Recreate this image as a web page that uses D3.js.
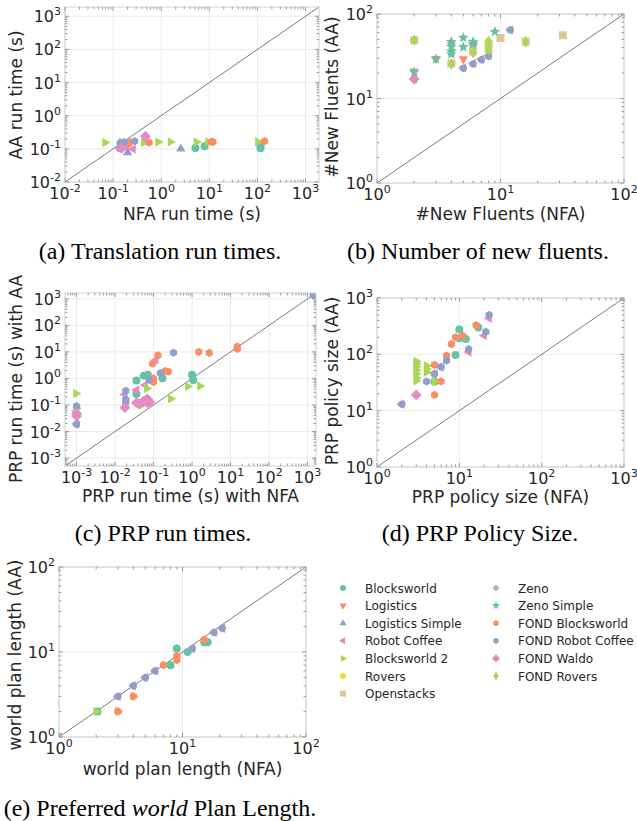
<!DOCTYPE html>
<html><head><meta charset="utf-8">
<script src="https://cdn.jsdelivr.net/npm/d3@7"></script>
<style>
body{margin:0;background:#fff;}
svg{display:block;}
svg text{font-family:'DejaVu Sans',sans-serif;}
svg text.cap{font-family:'Liberation Serif','Times New Roman',serif;}
</style></head>
<body>
<svg id="chart" width="637" height="821"></svg>
<script>
// ---------------- data ----------------
const seriesNames = ["Blocksworld","Logistics","Logistics Simple","Robot Coffee","Blocksworld 2","Rovers","Openstacks",
  "Zeno","Zeno Simple","FOND Blocksworld","FOND Robot Coffee","FOND Waldo","FOND Rovers"];
const seriesColors = ["#66c2a5","#fc8d62","#8da0cb","#e78ac3","#a6d854","#ffd92f","#e5c494",
  "#b3b3b3","#66c2a5","#fc8d62","#8da0cb","#e78ac3","#a6d854"];
const seriesShapes = ["circle","triDown","triUp","triLeft","triRight","octagon","square",
  "pentagon","star","hexagon","hexagon","diamond","thinDiamond"];

// (a) translation run times: [series, NFA, AA]
const translationTimes = [
  ["Blocksworld",5.15,0.107],["Blocksworld",8.0,0.12],["Blocksworld",116,0.104],["Blocksworld",116,0.123],["Blocksworld",0.14,0.105],
  ["Logistics",0.2,0.125],
  ["Logistics Simple",2.55,0.1],["Logistics Simple",0.2,0.078],
  ["Robot Coffee",0.14,0.1],["Robot Coffee",0.26,0.098],
  ["Blocksworld 2",0.068,0.155],["Blocksworld 2",0.15,0.16],["Blocksworld 2",0.435,0.155],["Blocksworld 2",0.86,0.16],
  ["Blocksworld 2",1.56,0.162],["Blocksworld 2",5.4,0.162],["Blocksworld 2",9.4,0.162],["Blocksworld 2",102,0.165],
  ["FOND Blocksworld",0.21,0.14],["FOND Blocksworld",0.22,0.16],["FOND Blocksworld",0.56,0.155],["FOND Blocksworld",11.1,0.162],
  ["FOND Blocksworld",11.9,0.162],["FOND Blocksworld",141,0.17],
  ["FOND Robot Coffee",0.14,0.15],["FOND Robot Coffee",0.17,0.16],["FOND Robot Coffee",0.28,0.17],
  ["FOND Waldo",0.15,0.105],["FOND Waldo",0.47,0.24]
];

// (b) number of new fluents: [series, NFA, AA]
const newFluents = [
  ["Logistics",2,21],["Logistics",3,29.5],["Logistics",4,43],["Logistics",5,29.3],["Logistics",6,41],
  ["Robot Coffee",2,17],["Robot Coffee",5,23],["Robot Coffee",6,26],["Robot Coffee",7,29],["Robot Coffee",8,32],["Robot Coffee",12,65],
  ["Rovers",4,26],["Rovers",6,36],["Rovers",8,42],["Rovers",8,47],
  ["Openstacks",2,49],["Openstacks",4,26],["Openstacks",6,36],["Openstacks",8,38],["Openstacks",8,44],
  ["Openstacks",10,52],["Openstacks",16,47],["Openstacks",32,56],
  ["Zeno Simple",2,20.4],["Zeno Simple",3,29.3],["Zeno Simple",4,47],["Zeno Simple",4,41],["Zeno Simple",4,36],["Zeno Simple",4,33.4],
  ["Zeno Simple",5,52.4],["Zeno Simple",5,40.6],["Zeno Simple",6,47],["Zeno Simple",6,44],["Zeno Simple",9,61.8],
  ["FOND Robot Coffee",5,22.8],["FOND Robot Coffee",6,25.6],["FOND Robot Coffee",7,28.8],["FOND Robot Coffee",8,31.6],["FOND Robot Coffee",12,64.7],
  ["FOND Waldo",2,17],
  ["FOND Rovers",2,49],["FOND Rovers",4,25.6],["FOND Rovers",6,35],["FOND Rovers",8,47],["FOND Rovers",8,38],["FOND Rovers",16,47]
];

// (c) PRP run times: [series, NFA, AA]
const prpTimes = [
  ["Blocksworld",0.036,0.83],["Blocksworld",0.036,0.26],["Blocksworld",0.056,1.25],["Blocksworld",0.071,1.37],["Blocksworld",0.17,1.01],
  ["Blocksworld",1.0,1.37],["Blocksworld",1.07,0.88],
  ["Robot Coffee",0.001,0.019],["Robot Coffee",0.001,0.06],["Robot Coffee",0.018,0.25],["Robot Coffee",0.036,0.37],["Robot Coffee",0.06,0.56],["Robot Coffee",0.114,5.0],
  ["Blocksworld 2",0.00097,0.27],["Blocksworld 2",0.001,0.075],["Blocksworld 2",0.05,0.1],["Blocksworld 2",0.067,0.42],["Blocksworld 2",0.28,0.17],
  ["Blocksworld 2",0.78,0.5],["Blocksworld 2",1.6,0.52],
  ["FOND Blocksworld",0.094,3.6],["FOND Blocksworld",0.13,7.4],["FOND Blocksworld",0.1,1.0],["FOND Blocksworld",0.1,0.73],
  ["FOND Blocksworld",0.2,1.9],["FOND Blocksworld",0.24,1.8],["FOND Blocksworld",1.5,10],["FOND Blocksworld",2.8,9.2],
  ["FOND Blocksworld",15,13],["FOND Blocksworld",15,16],
  ["FOND Robot Coffee",0.001,0.09],["FOND Robot Coffee",0.001,0.019],["FOND Robot Coffee",0.019,0.34],["FOND Robot Coffee",0.019,0.16],
  ["FOND Robot Coffee",0.019,0.12],["FOND Robot Coffee",0.077,0.88],["FOND Robot Coffee",0.15,1.58],["FOND Robot Coffee",0.33,9.3],
  ["FOND Robot Coffee",1400,1400],
  ["FOND Waldo",0.001,0.048],["FOND Waldo",0.001,0.038],["FOND Waldo",0.018,0.079],["FOND Waldo",0.036,0.12],["FOND Waldo",0.042,0.11],
  ["FOND Waldo",0.054,0.14],["FOND Waldo",0.069,0.17],["FOND Waldo",0.07,0.12],["FOND Waldo",0.08,0.13]
];

// (d) PRP policy size: [series, NFA, AA]
const policySize = [
  ["Blocksworld",5,33],["Blocksworld",9,97],["Blocksworld",10,277],["Blocksworld",10,192],["Blocksworld",12,188],["Blocksworld",17,300],
  ["Robot Coffee",2,13],["Robot Coffee",5,46],["Robot Coffee",6,59],["Robot Coffee",13,110],["Robot Coffee",20,215],["Robot Coffee",23,435],
  ["Blocksworld 2",3,75],["Blocksworld 2",3,68],["Blocksworld 2",3,60],["Blocksworld 2",3,52],["Blocksworld 2",3,45],["Blocksworld 2",3,38],
  ["Blocksworld 2",3,34],["Blocksworld 2",4,63],["Blocksworld 2",4,55],["Blocksworld 2",4,48],["Blocksworld 2",5,33],
  ["FOND Blocksworld",5,65],["FOND Blocksworld",5,19],["FOND Blocksworld",6,33],["FOND Blocksworld",7,95],["FOND Blocksworld",8,152],
  ["FOND Blocksworld",9,200],["FOND Blocksworld",11,214],["FOND Blocksworld",16,330],
  ["FOND Robot Coffee",2,13],["FOND Robot Coffee",4,33],["FOND Robot Coffee",5,45],["FOND Robot Coffee",6,60],["FOND Robot Coffee",7,77],
  ["FOND Robot Coffee",13,124],["FOND Robot Coffee",21,250],["FOND Robot Coffee",23,500],
  ["FOND Waldo",3,19]
];

// (e) preferred world plan length: [series, NFA, AA]
const planLength = [
  ["Blocksworld",2.05,2],["Blocksworld",8,7],["Blocksworld",9,11],["Blocksworld",11,10],["Blocksworld",15,13],["Blocksworld",16,13],
  ["Robot Coffee",1,1],["Robot Coffee",3,3],["Robot Coffee",4,4],["Robot Coffee",5,5],["Robot Coffee",6,6],["Robot Coffee",12,11],
  ["Robot Coffee",18,17],["Robot Coffee",21,19],
  ["Blocksworld 2",2,2],["Blocksworld 2",3,2],["Blocksworld 2",4,3],
  ["FOND Blocksworld",3,2],["FOND Blocksworld",4,3],["FOND Blocksworld",7,7],["FOND Blocksworld",9,8],["FOND Blocksworld",9,9],["FOND Blocksworld",15,14],
  ["FOND Robot Coffee",3,3],["FOND Robot Coffee",4,4],["FOND Robot Coffee",5,5],["FOND Robot Coffee",6,6],["FOND Robot Coffee",12,11],
  ["FOND Robot Coffee",18,17],["FOND Robot Coffee",21,19]
];

const ticksA = [-2,-1,0,1,2,3];
const ticksB = [0,1,2];
const ticksC = [-3,-2,-1,0,1,2,3];
const ticksD = [0,1,2,3];
const ticksE = [0,1,2];

// ---------------- drawing ----------------
const svg = d3.select("#chart");

function poly(n, r, rot){
  const pts=[];
  for(let i=0;i<n;i++){const a=rot+i*2*Math.PI/n; pts.push([r*Math.cos(a), r*Math.sin(a)]);}
  return "M"+pts.map(p=>p[0].toFixed(2)+","+p[1].toFixed(2)).join("L")+"Z";
}
function shapePath(shape, k){
  k = (k||1)*1.08;
  switch(shape){
    case "circle": return d3.symbol(d3.symbolCircle, Math.PI*Math.pow(3.7*k,2))();
    case "triUp": return poly(3,5*k,-Math.PI/2);
    case "triDown": return poly(3,5*k,Math.PI/2);
    case "triLeft": return poly(3,5*k,Math.PI);
    case "triRight": return poly(3,5*k,0);
    case "square": return poly(4,5.2*k,Math.PI/4);
    case "diamond": return poly(4,5*k,0);
    case "thinDiamond": { const h=5.5*k,w=3.2*k; return `M0,${-h}L${w},0L0,${h}L${-w},0Z`; }
    case "pentagon": return poly(5,4*k,-Math.PI/2);
    case "hexagon": return poly(6,3.8*k,Math.PI/2);
    case "octagon": return poly(8,3.9*k,Math.PI/8);
    case "star": {
      const pts=[]; for(let i=0;i<10;i++){const a=-Math.PI/2+i*Math.PI/5; const r=(i%2?2.3:5.3)*k; pts.push([r*Math.cos(a),r*Math.sin(a)]);}
      return "M"+pts.map(p=>p[0].toFixed(2)+","+p[1].toFixed(2)).join("L")+"Z";
    }
  }
}

function expText(sel, e){
  sel.append("tspan").text("10");
  sel.append("tspan").attr("dy",-7).attr("font-size",11).text(e<0?"-"+(-e):String(e));
}

let clipId=0;
function panel(cfg){
  const {x0,x1,y0,y1,lo,hi,ticks,data,xlabel,ylabel,ylabX,ylabY,xlabY} = cfg;
  const x = d3.scaleLog().domain([lo,hi]).range([x0,x1]);
  const y = d3.scaleLog().domain([lo,hi]).range([y1,y0]);
  const g = svg.append("g");
  ticks.forEach(e=>{
    const v=Math.pow(10,e);
    g.append("line").attr("x1",x(v)).attr("x2",x(v)).attr("y1",y0).attr("y2",y1).attr("stroke","#ebebeb").attr("stroke-width",1);
    g.append("line").attr("y1",y(v)).attr("y2",y(v)).attr("x1",x0).attr("x2",x1).attr("stroke","#ebebeb").attr("stroke-width",1);
  });
  g.append("line").attr("x1",x(lo)).attr("y1",y(lo)).attr("x2",x(hi)).attr("y2",y(hi))
    .attr("stroke","#7a7a7a").attr("stroke-width",1);
  const id="clip"+(clipId++);
  svg.append("clipPath").attr("id",id).append("rect").attr("x",x0).attr("y",y0).attr("width",x1-x0).attr("height",y1-y0);
  const pg = g.append("g").attr("clip-path",`url(#${id})`);
  seriesNames.forEach((name,i)=>{
    data.filter(d=>d[0]===name).forEach(d=>{
      pg.append("path").attr("d",shapePath(seriesShapes[i]))
        .attr("transform",`translate(${x(d[1])},${y(d[2])})`)
        .attr("fill",seriesColors[i]);
    });
  });
  g.append("rect").attr("x",x0).attr("y",y0).attr("width",x1-x0).attr("height",y1-y0)
    .attr("fill","none").attr("stroke","#cfcfcf").attr("stroke-width",1);
  const eLo=Math.floor(Math.log10(lo)), eHi=Math.ceil(Math.log10(hi));
  for(let e=eLo;e<=eHi;e++){
    for(let m=1;m<10;m++){
      const v=m*Math.pow(10,e);
      if(v<lo*0.9999||v>hi*1.0001) continue;
      const L = m===1?4:2.5;
      const col = "#888";
      const xv=x(v), yv=y(v);
      g.append("line").attr("x1",xv).attr("x2",xv).attr("y1",y1).attr("y2",y1-L).attr("stroke",col).attr("stroke-width",0.8);
      g.append("line").attr("x1",xv).attr("x2",xv).attr("y1",y0).attr("y2",y0+L).attr("stroke",col).attr("stroke-width",0.8);
      g.append("line").attr("y1",yv).attr("y2",yv).attr("x1",x0).attr("x2",x0+L).attr("stroke",col).attr("stroke-width",0.8);
      g.append("line").attr("y1",yv).attr("y2",yv).attr("x1",x1).attr("x2",x1-L).attr("stroke",col).attr("stroke-width",0.8);
    }
  }
  ticks.forEach(e=>{
    const v=Math.pow(10,e);
    const tx=g.append("text").attr("x",x(v)).attr("y",y1+16.5).attr("text-anchor","middle")
      .attr("font-size",16).attr("fill","#262626");
    expText(tx,e);
    const ty=g.append("text").attr("x",x0-4).attr("y",y(v)+6).attr("text-anchor","end")
      .attr("font-size",16).attr("fill","#262626");
    expText(ty,e);
  });
  g.append("text").attr("x",(x0+x1)/2).attr("y",xlabY).attr("text-anchor","middle")
    .attr("font-size",17).attr("fill","#262626").text(xlabel);
  g.append("text").attr("transform",`translate(${ylabX},${ylabY}) rotate(-90)`).attr("text-anchor","middle")
    .attr("font-size",17).attr("fill","#262626").text(ylabel);
}

panel({x0:65,x1:319,y0:7,y1:182,lo:1e-2,hi:Math.pow(10,3.28),ticks:ticksA,data:translationTimes,
  xlabel:"NFA run time (s)",ylabel:"AA run time (s)",ylabX:22,ylabY:95,xlabY:220});
panel({x0:377,x1:624,y0:14,y1:183,lo:1,hi:100,ticks:ticksB,data:newFluents,
  xlabel:"#New Fluents (NFA)",ylabel:"#New Fluents (AA)",ylabX:338,ylabY:97,xlabY:220});
panel({x0:65,x1:316,y0:293,y1:466,lo:Math.pow(10,-3.3),hi:Math.pow(10,3.22),ticks:ticksC,data:prpTimes,
  xlabel:"PRP run time (s) with NFA",ylabel:"PRP run time (s) with AA",ylabX:22,ylabY:379,xlabY:502});
panel({x0:377,x1:624,y0:298,y1:467,lo:1,hi:1000,ticks:ticksD,data:policySize,
  xlabel:"PRP policy size (NFA)",ylabel:"PRP policy size (AA)",ylabX:338,ylabY:381,xlabY:503});
panel({x0:59,x1:306,y0:567,y1:737,lo:1,hi:100,ticks:ticksE,data:planLength,
  xlabel:"world plan length (NFA)",ylabel:"world plan length (AA)",ylabX:21,ylabY:655,xlabY:775});

// captions
function caption(xc, yb, parts){
  const t=svg.append("text").attr("class","cap").attr("x",xc).attr("y",yb).attr("text-anchor","middle")
    .attr("font-size",24).attr("fill","#000");
  parts.forEach(p=>{ const s=t.append("tspan").text(p.t); if(p.i) s.attr("font-style","italic"); });
}
caption(160,259,[{t:"(a) Translation run times."}]);
caption(478,259,[{t:"(b) Number of new fluents."}]);
caption(163,541,[{t:"(c) PRP run times."}]);
caption(480,541,[{t:"(d) PRP Policy Size."}]);
caption(160,816,[{t:"(e) Preferred "},{t:"world",i:true},{t:" Plan Length."}]);

// legend
const leg = svg.append("g");
seriesNames.forEach((name,i)=>{
  const col = i<7?0:1, row = i<7?i:i-7;
  const mx = col===0?343:496, tx = col===0?365:518, yy = 588+row*17.6;
  leg.append("path").attr("d",shapePath(seriesShapes[i],0.75)).attr("transform",`translate(${mx},${yy})`).attr("fill",seriesColors[i]);
  leg.append("text").attr("x",tx).attr("y",yy+4.5).attr("font-size",12).attr("fill","#262626").text(name);
});
</script>
</body></html>
